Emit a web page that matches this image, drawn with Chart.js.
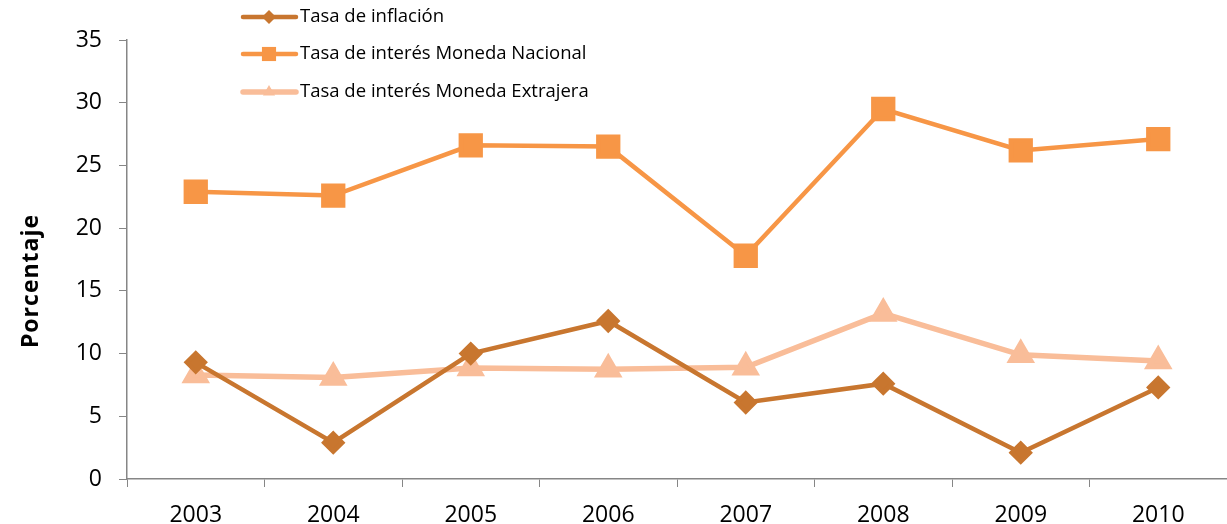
<!DOCTYPE html>
<html><head><meta charset="utf-8">
<script src="https://cdn.jsdelivr.net/npm/chart.js@4"></script>
<style>html,body{margin:0;padding:0;background:#fff;overflow:hidden}#c{display:block}</style>
</head><body><canvas id="c" width="1227" height="524"></canvas>
<script>
const categories = ['2003','2004','2005','2006','2007','2008','2009','2010'];
const inflacion = [9.3, 2.9, 10.0, 12.6, 6.1, 7.6, 2.1, 7.3];
const nacional = [22.9, 22.6, 26.6, 26.5, 17.8, 29.5, 26.2, 27.1];
const extranjera = [8.3, 8.1, 8.85, 8.75, 8.9, 13.2, 9.9, 9.4];
const seriesNames = ['Tasa de inflación','Tasa de interés Moneda Nacional','Tasa de interés Moneda Extrajera'];
const yTicks = [0,5,10,15,20,25,30,35];
const yTitle = 'Porcentaje';
const FONT = '"Open Sans", Lato, sans-serif';

const decorPlugin = {
  id: 'decor',
  afterDraw(chart) {
    const ctx = chart.ctx;
    const ys = [17, 54, 92];
    chart.data.datasets.forEach((ds, i) => {
      const y = ys[i];
      ctx.save();
      ctx.strokeStyle = ds.borderColor;
      ctx.lineWidth = ds.borderWidth;
      ctx.lineCap = 'round';
      ctx.beginPath(); ctx.moveTo(243, y); ctx.lineTo(296, y); ctx.stroke();
      ctx.fillStyle = ds.backgroundColor;
      const r = ds.pointStyle === 'rect' ? 10 : 7;
      Chart.helpers.drawPoint(ctx, {pointStyle: ds.pointStyle, rotation: 0, borderWidth: 0, radius: r}, 269, y);
      ctx.fillStyle = '#000';
      ctx.font = '18.5px ' + FONT;
      ctx.textBaseline = 'middle';
      ctx.textAlign = 'left';
      ctx.fillText(seriesNames[i], 300, y);
      ctx.restore();
    });
    // y axis title
    ctx.save();
    ctx.translate(31, 281);
    ctx.rotate(-Math.PI / 2);
    ctx.font = 'bold 23px ' + FONT;
    if ('letterSpacing' in ctx) ctx.letterSpacing = '1px';
    ctx.fillStyle = '#000';
    ctx.textAlign = 'center';
    ctx.textBaseline = 'middle';
    ctx.fillText(yTitle, 0, 0);
    ctx.restore();
  }
};

new Chart(document.getElementById('c'), {
  type: 'line',
  data: {
    labels: categories,
    datasets: [
      {label: seriesNames[0], data: inflacion, borderColor: '#C8762F', backgroundColor: '#C8762F', borderWidth: 4.5, pointStyle: 'rectRot', pointRadius: 9, pointHoverRadius: 9},
      {label: seriesNames[1], data: nacional, borderColor: '#F79646', backgroundColor: '#F79646', borderWidth: 4.5, pointStyle: 'rect', pointRadius: 14, pointHoverRadius: 14},
      {label: seriesNames[2], data: extranjera, borderColor: '#F9BD99', backgroundColor: '#F9BD99', borderWidth: 5.5, pointStyle: 'triangle', pointRadius: 11, pointHoverRadius: 11}
    ]
  },
  options: {
    responsive: false,
    animation: false,
    devicePixelRatio: 1,
    layout: {autoPadding: false, padding: {top: 40, right: 0, left: 0, bottom: 0}},
    plugins: {legend: {display: false}, tooltip: {enabled: false}},
    elements: {line: {tension: 0}, point: {borderWidth: 0}},
    scales: {
      x: {
        offset: true,
        afterFit(s) { s.height = 45; },
        grid: {offset: true, drawOnChartArea: false, color: '#868686', tickLength: 8, tickColor: '#868686'},
        border: {color: '#868686', width: 1.5},
        ticks: {font: {family: FONT, size: 23}, color: '#000', padding: 15, maxRotation: 0, autoSkip: false}
      },
      y: {
        min: 0, max: 35,
        afterFit(s) { s.width = 127; },
        afterBuildTicks(s) { s.ticks = yTicks.map(v => ({value: v})); },
        grid: {drawOnChartArea: false, color: '#868686', tickLength: 8},
        border: {color: '#868686', width: 1.5},
        ticks: {font: {family: FONT, size: 23}, color: '#000', padding: 17, autoSkip: false}
      }
    }
  },
  plugins: [decorPlugin]
});
</script>
</body></html>
